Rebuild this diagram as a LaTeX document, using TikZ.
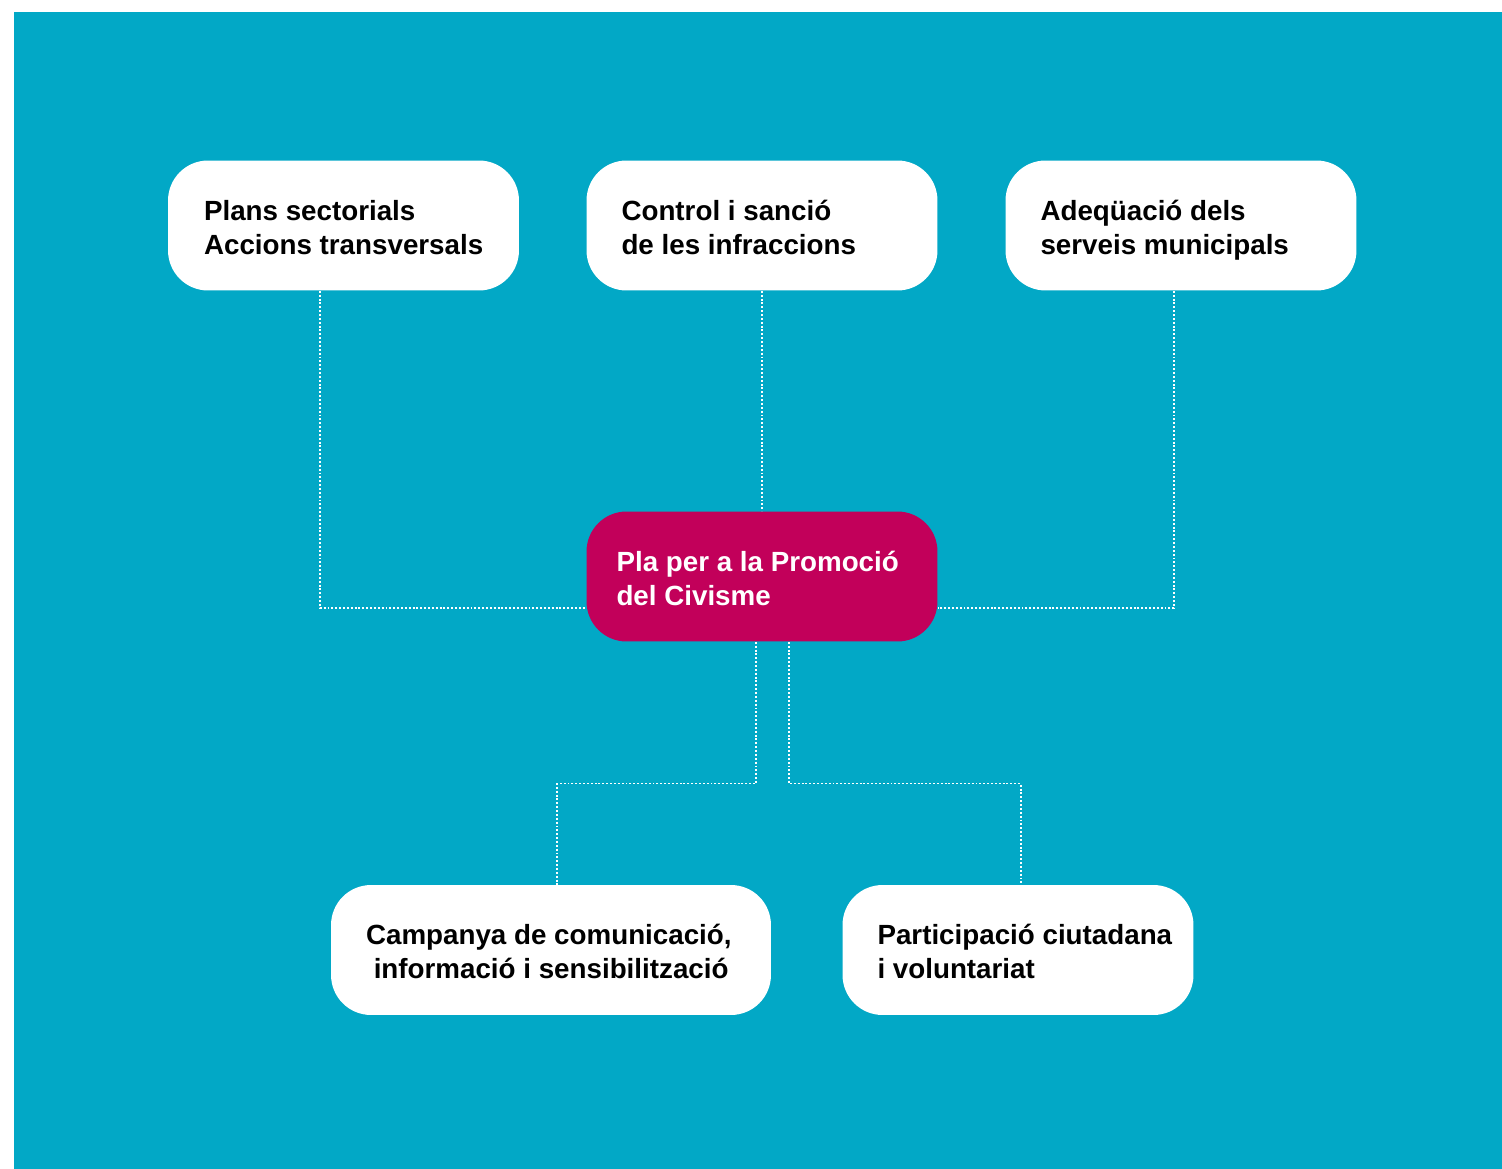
\documentclass[tikz,border=0pt]{standalone}
\usepackage{fontspec}
\setmainfont{Liberation Sans}
\usepackage{xcolor}
\definecolor{fons}{HTML}{02A8C6}
\definecolor{civisme}{HTML}{C2005A}
\usepackage{tikz}

\tikzset{
  caixa/.style={rectangle, rounded corners=0.8cm, fill=white,
    minimum width=7.02cm, minimum height=2.6cm, inner sep=0},
  text caixa/.style={anchor=west, align=left, inner sep=0, text depth=0pt,
    yshift=-0.03cm, font=\bfseries\fontsize{15.8}{19.3}\selectfont},
  enllac/.style={draw=white, line width=0.6pt, dash pattern=on 1.1pt off 1.1pt},
}

\begin{document}
\begin{tikzpicture}[x=0.02cm, y=-0.02cm]
            \fill[white] (0, 0) rectangle (1502, 1169);
            \fill[fons] (14, 12) rectangle (1502, 1169);

            \node[caixa] (plans) at (343.5, 225.5) {};
            \node[caixa] (control) at (762, 225.5) {};
            \node[caixa] (adequacio) at (1181, 225.5) {};
            \node[caixa, fill=civisme] (pla) at (762, 576.5) {};
            \node[caixa, minimum width=8.8cm] (campanya) at (551, 950) {};
            \node[caixa] (participacio) at (1018, 950) {};

            \node[text caixa] (plans text) at ([xshift=0.72cm]plans.west) {Plans sectorials\\Accions transversals};
            \node[text caixa] (control text) at ([xshift=0.7cm]control.west) {Control i sanció\\de les infraccions};
            \node[text caixa] (adequacio text) at ([xshift=0.7cm]adequacio.west) {Adeqüació dels\\serveis municipals};
            \node[text caixa, text=white] (pla text) at ([xshift=0.6cm]pla.west) {Pla per a la Promoció\\del Civisme};
            \node[text caixa] (campanya text) at ([xshift=0.7cm]campanya.west) {Campanya de comunicació,\\~informació i sensibilització};
            \node[text caixa] (participacio text) at ([xshift=0.7cm]participacio.west) {Participació ciutadana\\i voluntariat};

            % connectors, white dotted
            \draw[enllac] ([xshift=-0.47cm]plans.south) |- ([yshift=-0.63cm]pla.west);
            \draw[enllac] (control.south) -- (pla.north);
            \draw[enllac] ([xshift=-0.14cm]adequacio.south) |- ([yshift=-0.63cm]pla.east);
            \draw[enllac] ([xshift=-0.12cm]pla.south) -- ++(0, 142) -| ([xshift=0.12cm]campanya.north);
            \draw[enllac] ([xshift=0.54cm]pla.south) -- ++(0, 142) -| ([xshift=0.06cm]participacio.north);
\end{tikzpicture}
\end{document}
